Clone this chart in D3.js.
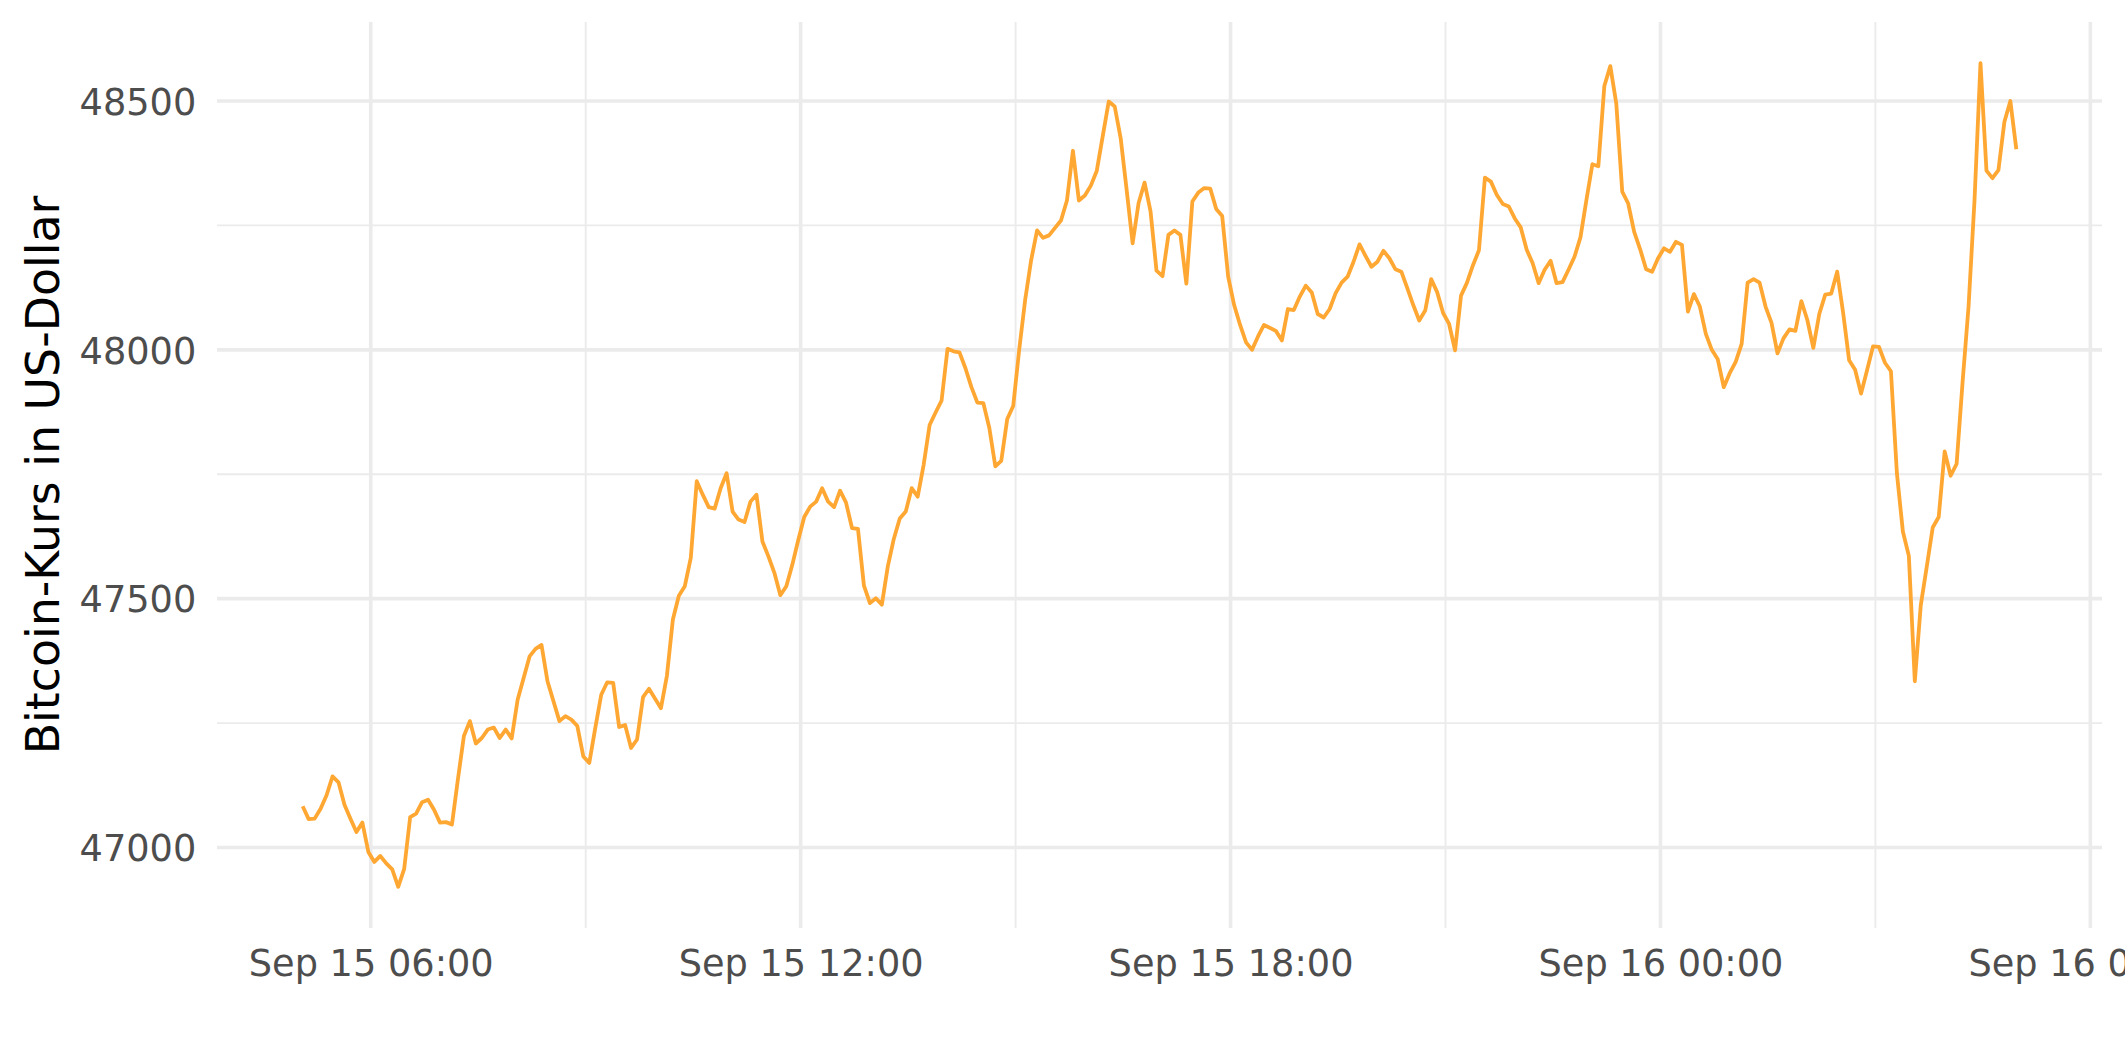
<!DOCTYPE html>
<html>
<head>
<meta charset="utf-8">
<script src="https://cdn.jsdelivr.net/npm/d3@7"></script>
<style>
html, body { margin: 0; padding: 0; background: #ffffff; }
svg { display: block; }
</style>
</head>
<body>
<svg id="chart" width="2125" height="1062"></svg>
<script>
// ---- data ----
const startTime = "2021-09-15 05:03";
const stepMinutes = 5;
const slots = [
  0,1,2,3,4,5,6,7,8,9,10,11,12,13,14,15,16,17,18,19,20,21,22,23,24,25,26,27,28,29,30,31,32,33,34,35,36,
  38,39,40,41,
  43,44,45,46,47,48,49,50,51,52,53,54,55,56,57,58,
  60,61,62,63,64,65,66,67,68,69,70,71,72,73,74,75,76,77,78,79,80,81,82,83,84,85,86,87,88,89,
  90,91,92,93,94,95,96,97,98,99,100,101,102,103,104,105,106,107,108,109,110,111,112,113,114,115,116,117,118,119,
  120,121,122,123,124,125,126,127,128,129,130,131,132,133,134,135,136,137,138,139,140,141,142,143,144,145,146,147,148,149,
  150,151,152,153,154,155,156,157,158,159,160,161,
  163,164,165,166,167,168,169,170,171,172,173,174,175,176,177,178,179,180,181,182,183,184,185,186,187,188,189,
  190,191,192,193,194,195,196,197,198,199,200,201,202,203,204,205,206,207,208,209,210,211,212,213,214,215,216,217,218,219,
  220,221,222,223,224,225,226,227,228,229,230,231,232,233,234,235,236,237,238,239,240,241,242,243,244,245,246,247,248,249,
  250,251,252,253,254,255,256,257,258,259,260,261,262,263,264,265,266,267,268,269,270,271,272,273,274,275,276,277,278,279,
  280,281,282,283,284,285,286,287
];
const prices = [
  47083,47057,47058,47078,47105,47143,47131,47086,47058,47031,
  47050,46991,46971,46983,46968,46956,46921,46957,47061,47068,
  47091,47096,47076,47050,47051,47046,47137,47224,47254,47209,
  47220,47237,47241,47220,47237,47219,47297,
  47384,47399,47407,47334,
  47254,47264,47257,47244,47183,47170,47240,
  47307,47332,47331,47242,47246,47200,47217,47302,47319,
  47280,47345,47458,47506,47525,47582,47736,47709,47684,47681,
  47722,47752,47675,47659,47654,47695,47709,47615,47585,47552,
  47507,47525,47568,47618,47664,47685,47695,47722,47695,47684,
  47717,47693,47642,47640,47526,47491,47501,47488,47565,47620,
  47661,47675,47722,47705,47769,47849,47874,47898,48002,47997,
  47995,47963,47925,47894,47893,47843,47766,47777,47861,47887,
  48000,48100,48180,48240,48225,48230,48245,48260,48300,48400,
  48300,48310,48330,48360,48430,48499,48489,48425,48321,48214,
  48295,48336,48278,48159,48148,48231,48240,48231,48133,48298,
  48316,48325,48324,48283,48269,48147,48090,48050,48015,48000,
  48027,48050,
  48038,48019,48082,48080,48107,48129,48115,
  48072,48065,48082,48114,48135,48147,48177,48212,48189,48167,
  48177,48199,48184,48162,48157,48124,48090,48059,48079,48142,
  48116,48074,48052,47999,48109,48135,48170,48200,48346,48338,
  48311,48293,48288,48264,48246,48201,48174,48134,48161,48179,
  48134,48136,48161,48187,48226,48301,48373,48369,48530,48570,
  48495,48318,48294,48237,48202,48162,48157,48184,48204,48197,
  48217,48211,48077,48112,48087,48032,48000,47981,47925,47953,
  47976,48012,48135,48142,48135,48087,48054,47993,48023,48041,
  48038,48098,48060,48004,48072,48111,48113,48157,48074,47979,
  47960,47912,47959,48007,48006,47974,47957,47752,47635,47586,
  47334,47487,47564,47643,47664,47796,47747,47771,47935,48087,
  48301,48576,48360,48345,48361,48458,48500,48403
];
const yTicks = [47000, 47500, 48000, 48500];
const yMinorTicks = [47250, 47750, 48250];
const xTicks = ["2021-09-15 06:00", "2021-09-15 12:00", "2021-09-15 18:00", "2021-09-16 00:00", "2021-09-16 06:00"];
const xMinorTicks = ["2021-09-15 09:00", "2021-09-15 15:00", "2021-09-15 21:00", "2021-09-16 03:00"];
const yTitle = "Bitcoin-Kurs in US-Dollar";

// ---- layout ----
const W = 2125, H = 1062;
const panel = { left: 217, right: 2102, top: 22, bottom: 928 };
const FONT = "'DejaVu Sans', Verdana, sans-serif";

const parse = d3.timeParse("%Y-%m-%d %H:%M");
const t0 = parse(startTime);
const data = slots.map((s, i) => ({ t: d3.timeMinute.offset(t0, s * stepMinutes), v: prices[i] }));

const xExt = d3.extent(data, d => d.t);
const xSpan = xExt[1] - xExt[0];
const x = d3.scaleTime()
  .domain([new Date(+xExt[0] - 0.05 * xSpan), new Date(+xExt[1] + 0.05 * xSpan)])
  .range([panel.left, panel.right]);

const yExt = d3.extent(data, d => d.v);
const ySpan = yExt[1] - yExt[0];
const y = d3.scaleLinear()
  .domain([yExt[0] - 0.05 * ySpan, yExt[1] + 0.05 * ySpan])
  .range([panel.bottom, panel.top]);

const svg = d3.select("#chart");
svg.append("rect").attr("width", W).attr("height", H).attr("fill", "#ffffff");

const grid = svg.append("g");
// minor grid
grid.selectAll(".ymin").data(yMinorTicks).join("line")
  .attr("x1", panel.left).attr("x2", panel.right)
  .attr("y1", d => y(d)).attr("y2", d => y(d))
  .attr("stroke", "#EBEBEB").attr("stroke-width", 1.9);
grid.selectAll(".xmin").data(xMinorTicks.map(parse)).join("line")
  .attr("y1", panel.top).attr("y2", panel.bottom)
  .attr("x1", d => x(d)).attr("x2", d => x(d))
  .attr("stroke", "#EBEBEB").attr("stroke-width", 1.9);
// major grid
grid.selectAll(".ymaj").data(yTicks).join("line")
  .attr("x1", panel.left).attr("x2", panel.right)
  .attr("y1", d => y(d)).attr("y2", d => y(d))
  .attr("stroke", "#EBEBEB").attr("stroke-width", 3.6);
grid.selectAll(".xmaj").data(xTicks.map(parse)).join("line")
  .attr("y1", panel.top).attr("y2", panel.bottom)
  .attr("x1", d => x(d)).attr("x2", d => x(d))
  .attr("stroke", "#EBEBEB").attr("stroke-width", 3.6);

// line
const line = d3.line().x(d => x(d.t)).y(d => y(d.v));
svg.append("path").datum(data)
  .attr("d", line)
  .attr("fill", "none")
  .attr("stroke", "#FFA733")
  .attr("stroke-width", 3.8)
  .attr("stroke-linejoin", "round");

// axes (labels only)
const xAxis = d3.axisBottom(x)
  .tickValues(xTicks.map(parse))
  .tickFormat(d3.timeFormat("%b %d %H:%M"))
  .tickSize(0).tickPadding(22);
const gx = svg.append("g").attr("transform", `translate(0,${panel.bottom})`).call(xAxis);
gx.select(".domain").remove();
gx.selectAll("text").attr("fill", "#4D4D4D").style("font-family", FONT).style("font-size", "36.7px");

const yAxis = d3.axisLeft(y)
  .tickValues(yTicks)
  .tickFormat(d3.format("d"))
  .tickSize(0).tickPadding(20.7);
const gy = svg.append("g").attr("transform", `translate(${panel.left},0)`).call(yAxis);
gy.select(".domain").remove();
gy.selectAll("text").attr("fill", "#4D4D4D").attr("dy", "0.36em")
  .style("font-family", FONT).style("font-size", "36.7px");

// y title
svg.append("text")
  .attr("transform", `translate(59,${(panel.top + panel.bottom) / 2}) rotate(-90)`)
  .attr("text-anchor", "middle")
  .attr("fill", "#000000")
  .style("font-family", FONT)
  .style("font-size", "45.8px")
  .text(yTitle);
</script>
</body>
</html>
